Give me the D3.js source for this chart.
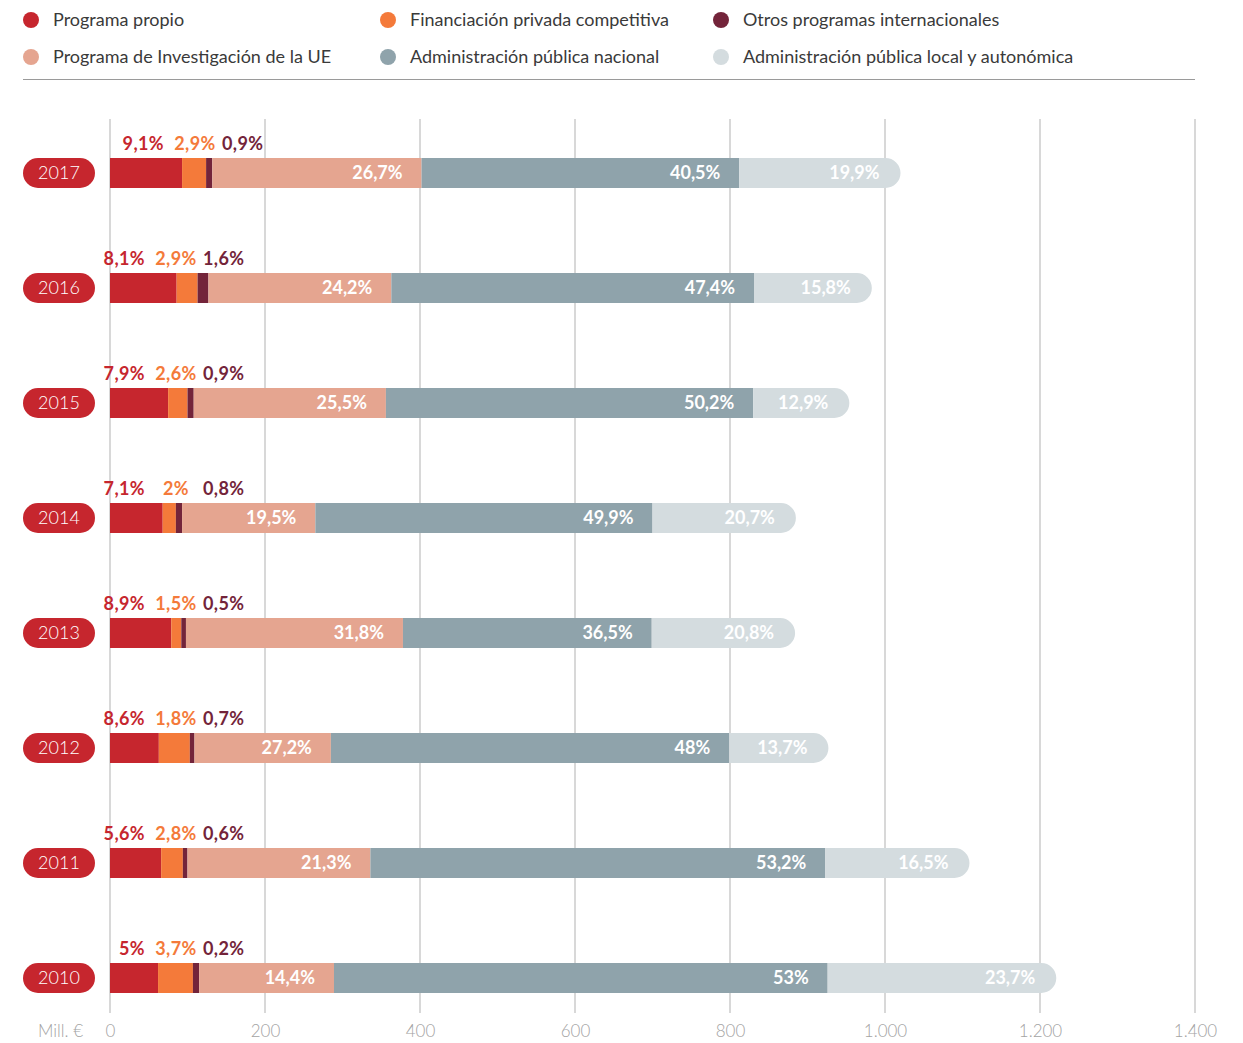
<!DOCTYPE html>
<html>
<head>
<meta charset="utf-8">
<script src="https://cdn.jsdelivr.net/npm/d3@7"></script>
<style>
  html, body { margin: 0; padding: 0; background: #ffffff; }
  svg { display: block; font-family: Lato, "Open Sans", sans-serif; }
</style>
</head>
<body>
<svg id="chart" width="1243" height="1043"></svg>
<script>
// ---------- data ----------
const years = ["2017", "2016", "2015", "2014", "2013", "2012", "2011", "2010"];

// segment amounts (Mill. €)
const propio   = [93, 86, 75, 68, 79, 63, 66, 62];
const privada  = [31, 27, 25, 17, 13, 40, 28, 45];
const otros    = [8, 14, 8, 8, 6, 6, 6, 8];
const ue       = [270, 236, 248, 172, 280, 176, 236, 174];
const nacional = [410, 468, 474, 435, 321, 514, 587, 637];
const local    = [208, 152, 124, 185, 185, 128, 186, 295];

// printed share labels (%)
const propioPct   = [9.1, 8.1, 7.9, 7.1, 8.9, 8.6, 5.6, 5];
const privadaPct  = [2.9, 2.9, 2.6, 2, 1.5, 1.8, 2.8, 3.7];
const otrosPct    = [0.9, 1.6, 0.9, 0.8, 0.5, 0.7, 0.6, 0.2];
const uePct       = [26.7, 24.2, 25.5, 19.5, 31.8, 27.2, 21.3, 14.4];
const nacionalPct = [40.5, 47.4, 50.2, 49.9, 36.5, 48, 53.2, 53];
const localPct    = [19.9, 15.8, 12.9, 20.7, 20.8, 13.7, 16.5, 23.7];

const seriesNames = [
  "Programa propio",
  "Financiación privada competitiva",
  "Otros programas internacionales",
  "Programa de Investigación de la UE",
  "Administración pública nacional",
  "Administración pública local y autonómica"
];
const tickValues = [0, 200, 400, 600, 800, 1000, 1200, 1400];
const unitLabel = "Mill. €";

// ---------- styles ----------
const colors = ["#c6262e", "#f47a3a", "#73243a", "#e5a590", "#8fa3ab", "#d4dcdf"];
const seriesData = [propio, privada, otros, ue, nacional, local];
const seriesPct = [propioPct, privadaPct, otrosPct, uePct, nacionalPct, localPct];

const svg = d3.select("#chart");
const x = d3.scaleLinear().domain([0, 1400]).range([110, 1195]);
const y = d3.scalePoint().domain(years).range([173, 978]);
const barH = 30;

const loc = d3.formatLocale({ decimal: ",", thousands: ".", grouping: [3], currency: ["", "€"] });
const fmtTick = loc.format(",d");
const fmtPct = v => String(v).replace(".", ",") + "%";

// ---------- legend ----------
const legendOrder = [
  { i: 0, col: 0, row: 0 }, { i: 1, col: 1, row: 0 }, { i: 2, col: 2, row: 0 },
  { i: 3, col: 0, row: 1 }, { i: 4, col: 1, row: 1 }, { i: 5, col: 2, row: 1 }
];
const colX = [31, 388, 721];
const rowY = [20, 57];
const lg = svg.append("g");
legendOrder.forEach(d => {
  lg.append("circle").attr("cx", colX[d.col]).attr("cy", rowY[d.row]).attr("r", 8).attr("fill", colors[d.i]);
  lg.append("text").attr("x", colX[d.col] + 22).attr("y", rowY[d.row]).attr("dy", "0.35em")
    .attr("font-size", 18).attr("fill", "#3a3a3a").text(seriesNames[d.i]);
});
svg.append("line").attr("x1", 23).attr("x2", 1195).attr("y1", 79.5).attr("y2", 79.5)
  .attr("stroke", "#9a9a9a").attr("stroke-width", 1);

// ---------- grid ----------
svg.append("g").selectAll("line").data(tickValues).join("line")
  .attr("x1", d => x(d)).attr("x2", d => x(d))
  .attr("y1", 119).attr("y2", 1013)
  .attr("stroke", "#cfcfcf").attr("stroke-width", 1.6);

// ---------- axis ----------
const axis = svg.append("g").attr("transform", "translate(0,1013)")
  .call(d3.axisBottom(x).tickValues(tickValues).tickFormat(fmtTick).tickSize(0).tickPadding(12));
axis.select(".domain").remove();
axis.selectAll("text").attr("font-size", 17).attr("fill", "#a3a3a3").attr("font-family", "Lato, sans-serif").attr("font-weight", 300);
svg.append("text").attr("x", 83).attr("y", 1037).attr("text-anchor", "end")
  .attr("font-size", 17).attr("fill", "#a3a3a3").attr("font-weight", 300).text(unitLabel);

// ---------- bars ----------
function roundedRight(x0, x1, yc, h) {
  const r = h / 2;
  const t = yc - h / 2, b = yc + h / 2;
  return `M${x0},${t}H${x1 - r}A${r},${r} 0 0 1 ${x1},${yc}A${r},${r} 0 0 1 ${x1 - r},${b}H${x0}Z`;
}

years.forEach((yr, j) => {
  const yc = y(yr);
  const g = svg.append("g");
  // year pill
  g.append("rect").attr("x", 23).attr("y", yc - barH / 2).attr("width", 72).attr("height", barH)
    .attr("rx", 15).attr("fill", colors[0]);
  g.append("text").attr("x", 59).attr("y", yc).attr("dy", "0.36em").attr("text-anchor", "middle")
    .attr("font-size", 18).attr("font-weight", 300).attr("fill", "#ffffff").text(yr);

  let cum = 0;
  const segs = seriesData.map((s, k) => {
    const v = s[j];
    const seg = { k, x0: x(cum), x1: x(cum + v), pct: seriesPct[k][j] };
    cum += v;
    return seg;
  });
  segs.forEach(s => {
    if (s.k === 5) {
      g.append("path").attr("d", roundedRight(s.x0, s.x1, yc, barH)).attr("fill", colors[s.k]);
    } else {
      g.append("rect").attr("x", s.x0).attr("y", yc - barH / 2).attr("width", s.x1 - s.x0)
        .attr("height", barH).attr("fill", colors[s.k]);
    }
  });
  // inner labels (UE, nacional, local)
  segs.filter(s => s.k >= 3).forEach(s => {
    g.append("text").attr("x", s.x1 - (s.k === 5 ? 21 : 19)).attr("y", yc).attr("dy", "0.36em")
      .attr("text-anchor", "end").attr("font-size", 18).attr("font-weight", 700)
      .attr("fill", "#ffffff").text(fmtPct(s.pct));
  });
  // top labels (propio, privada, otros)
  const ty = yc - barH / 2 - 8;
  const shift = j === 0 ? 19 : 0;
  g.append("text").attr("x", 145 + shift).attr("y", ty).attr("text-anchor", "end")
    .attr("font-size", 18).attr("font-weight", 700).attr("letter-spacing", 0.4)
    .attr("fill", colors[0]).text(fmtPct(propioPct[j]));
  g.append("text").attr("x", 176 + shift).attr("y", ty).attr("text-anchor", "middle")
    .attr("font-size", 18).attr("font-weight", 700).attr("letter-spacing", 0.4)
    .attr("fill", colors[1]).text(fmtPct(privadaPct[j]));
  g.append("text").attr("x", 203 + shift).attr("y", ty).attr("text-anchor", "start")
    .attr("font-size", 18).attr("font-weight", 700).attr("letter-spacing", 0.4)
    .attr("fill", colors[2]).text(fmtPct(otrosPct[j]));
});
</script>
</body>
</html>
